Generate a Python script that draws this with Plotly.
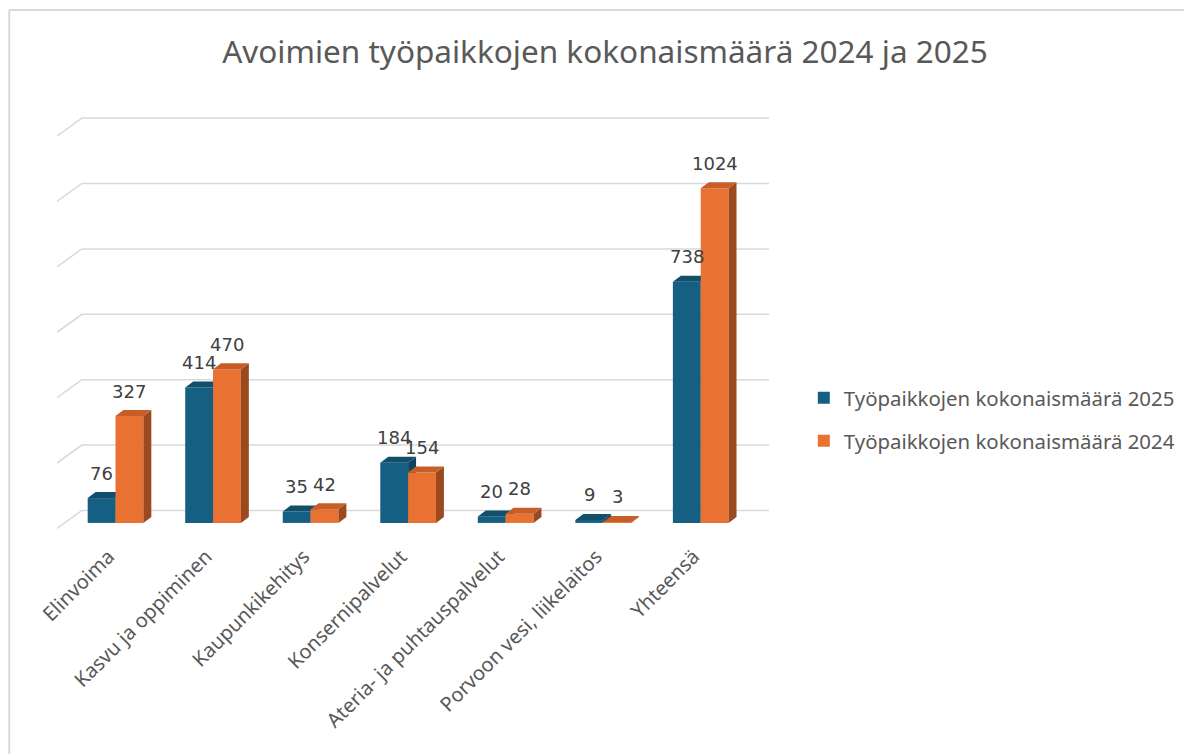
import plotly.graph_objects as go

categories = ["Elinvoima", "Kasvu ja oppiminen", "Kaupunkikehitys", "Konsernipalvelut",
              "Ateria- ja puhtauspalvelut", "Porvoon vesi, liikelaitos", "Yhteensä"]
values_2025 = [76, 414, 35, 184, 20, 9, 738]
values_2024 = [327, 470, 42, 154, 28, 3, 1024]
series_names = ["Työpaikkojen kokonaismäärä 2025", "Työpaikkojen kokonaismäärä 2024"]
grid_values = [0, 200, 400, 600, 800, 1000, 1200]

# style
FRONT = ["#156082", "#E97132"]
TOP = ["#124F6C", "#C75E27"]
SIDE = ["#0E4560", "#9B4A1F"]
GRID = "#D9D9D9"
TXT = "#595959"

# layout in pixels (page has an 8px body margin)
OFF = 8
W, H = 1192 - OFF, 754 - OFF
PLOT_L, PLOT_R, PLOT_T, PLOT_B = 57 - OFF, 773 - OFF, 111 - OFF, 536 - OFF
ML, MR, MT, MB = PLOT_L, W - PLOT_R, PLOT_T, H - PLOT_B
PW, PH = PLOT_R - PLOT_L, PLOT_B - PLOT_T
XR = [-0.6, 6.7]
YR = [-40, 1260]
px_x = PW / (XR[1] - XR[0])
px_y = PH / (YR[1] - YR[0])


def ux(p):
    return p / px_x


def uy(p):
    return p / px_y


def paper_x(p):
    return (p - OFF - PLOT_L) / PW


def paper_y(p):
    return (PLOT_B - (p - OFF)) / PH


bar_w = ux(28)
ddx, ddy = ux(8), uy(6)
wall_dx = ux(25)
wall_lo, wall_hi = uy(-5.5), uy(12.5)

fig = go.Figure()

# back wall gridlines
for v in grid_values:
    fig.add_trace(go.Scatter(
        x=[XR[0], XR[0] + wall_dx, XR[1]],
        y=[v + wall_lo, v + wall_hi, v + wall_hi],
        mode="lines", line=dict(color=GRID, width=1.5),
        hoverinfo="skip", showlegend=False))

# bars with pseudo-3D faces
for i in range(len(categories)):
    for s, vals in enumerate([values_2025, values_2024]):
        v = vals[i]
        x0 = i - bar_w + s * bar_w
        x1 = x0 + bar_w
        fig.add_trace(go.Scatter(x=[x0, x1, x1, x0, x0], y=[0, 0, v, v, 0],
                                 fill="toself", fillcolor=FRONT[s], mode="lines",
                                 line=dict(width=0, color=FRONT[s]),
                                 hoverinfo="skip", showlegend=False))
        fig.add_trace(go.Scatter(x=[x1, x1 + ddx, x1 + ddx, x1, x1],
                                 y=[0, ddy, v + ddy, v, 0],
                                 fill="toself", fillcolor=SIDE[s], mode="lines",
                                 line=dict(width=0, color=SIDE[s]),
                                 hoverinfo="skip", showlegend=False))
        fig.add_trace(go.Scatter(x=[x0, x1, x1 + ddx, x0 + ddx, x0],
                                 y=[v, v, v + ddy, v + ddy, v],
                                 fill="toself", fillcolor=TOP[s], mode="lines",
                                 line=dict(width=0, color=TOP[s]),
                                 hoverinfo="skip", showlegend=False))

# data labels
for s, vals in enumerate([values_2025, values_2024]):
    for i, v in enumerate(vals):
        xc = i - bar_w / 2 + s * bar_w
        fig.add_annotation(x=xc, y=v, text=str(v), showarrow=False,
                           yshift=25, yanchor="middle", xanchor="center",
                           font=dict(family="DejaVu Sans", size=18, color="#404040"))

# legend entries
for s in range(2):
    fig.add_trace(go.Scatter(x=[None], y=[None], mode="markers", name=series_names[s],
                             marker=dict(symbol="square", size=12, color=FRONT[s]),
                             legend="legend" if s == 0 else "legend2"))

legend_common = dict(x=paper_x(808), xanchor="left", yanchor="middle",
                     font=dict(family="Noto Sans", size=20.4, color=TXT),
                     bgcolor="rgba(0,0,0,0)", itemwidth=30)

# frame lines
fig.add_shape(type="line", xref="paper", yref="paper",
              x0=paper_x(9), x1=paper_x(1200), y0=paper_y(10), y1=paper_y(10),
              line=dict(color="#D9D9D9", width=2))
fig.add_shape(type="line", xref="paper", yref="paper",
              x0=paper_x(9), x1=paper_x(9), y0=paper_y(10), y1=paper_y(760),
              line=dict(color="#D9D9D9", width=2))

fig.update_layout(
    width=W, height=H,
    margin=dict(l=ML, r=MR, t=MT, b=MB),
    paper_bgcolor="white", plot_bgcolor="white",
    title=dict(text="Avoimien työpaikkojen kokonaismäärä 2024 ja 2025",
               x=(605 - OFF) / W, y=1 - (52 - OFF) / H, xref="container", yref="container",
               xanchor="center", yanchor="middle",
               font=dict(family="Noto Sans", size=31.5, color=TXT)),
    xaxis=dict(range=XR, tickmode="array", tickvals=list(range(len(categories))),
               ticktext=categories, tickangle=-45, showgrid=False, zeroline=False,
               showline=False, ticks="", fixedrange=True,
               ticklabelshift=-7, ticklabelstandoff=4,
               tickfont=dict(family="Noto Sans", size=20, color=TXT)),
    yaxis=dict(range=YR, showticklabels=False, showgrid=False, zeroline=False,
               showline=False, ticks="", fixedrange=True),
    legend=dict(y=paper_y(398), **legend_common),
    legend2=dict(y=paper_y(441), **legend_common),
    showlegend=True,
)

fig.write_html("out.html")
